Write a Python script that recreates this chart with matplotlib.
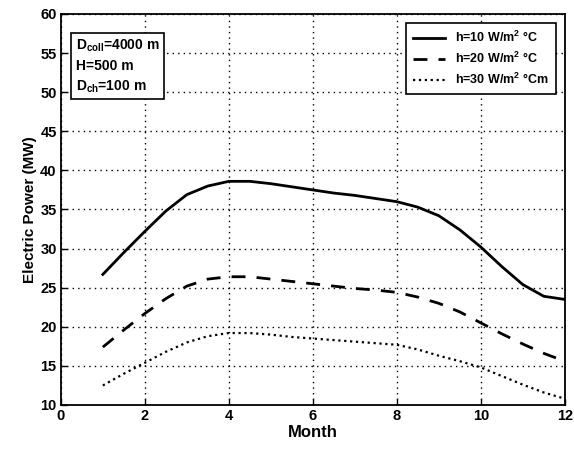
"""Electric power of the solar chimney over the year for three heat-transfer coefficients."""
import matplotlib
matplotlib.use("Agg")
import matplotlib.pyplot as plt  # noqa: E402

plt.rcParams["font.family"] = ["Liberation Sans", "DejaVu Sans"]
plt.rcParams["font.weight"] = "bold"
plt.rcParams["mathtext.fontset"] = "custom"
plt.rcParams["mathtext.rm"] = "Liberation Sans:bold"
plt.rcParams["mathtext.it"] = "Liberation Sans:bold"

month = [1, 1.5, 2, 2.5, 3, 3.5, 4, 4.5, 5, 5.5, 6, 6.5,
         7, 7.5, 8, 8.5, 9, 9.5, 10, 10.5, 11, 11.5, 12]
power_h10 = [26.7, 29.5, 32.2, 34.8, 36.9, 38.0, 38.6, 38.6, 38.3, 37.9, 37.5, 37.1,
             36.8, 36.4, 36.0, 35.3, 34.2, 32.4, 30.2, 27.7, 25.4, 23.9, 23.5]
power_h20 = [17.4, 19.6, 21.7, 23.6, 25.2, 26.1, 26.4, 26.4, 26.1, 25.8, 25.5, 25.2,
             24.9, 24.7, 24.4, 23.8, 23.0, 21.9, 20.5, 19.1, 17.8, 16.6, 15.6]
power_h30 = [12.5, 14.0, 15.4, 16.8, 18.0, 18.8, 19.2, 19.2, 19.0, 18.7, 18.5, 18.3,
             18.1, 17.9, 17.7, 17.1, 16.3, 15.6, 14.8, 13.7, 12.6, 11.6, 10.8]
labels = [r"h=10 W/m$^2$ °C", r"h=20 W/m$^2$ °C", r"h=30 W/m$^2$ °Cm"]
xticks = [0, 2, 4, 6, 8, 10, 12]
yticks = [10, 15, 20, 25, 30, 35, 40, 45, 50, 55, 60]

fig = plt.figure(figsize=(5.74, 4.51), dpi=100)
ax = fig.add_axes([0.106, 0.102, 0.878, 0.867])

ax.plot(month, power_h10, "-", color="black", lw=2.0, label=labels[0])
ax.plot(month, power_h20, "--", color="black", lw=2.0, dashes=(5, 4), label=labels[1])
ax.plot(month, power_h30, ":", color="black", lw=1.6, label=labels[2])

ax.set_xlim(0, 12); ax.set_ylim(10, 60)
ax.set_xticks(xticks); ax.set_yticks(yticks)
ax.tick_params(direction="in", length=4, width=1, labelsize=10.5, pad=3)
ax.grid(True, ls=(0, (1, 3)), color="black", lw=1.0)
for s in ax.spines.values():
    s.set_linewidth(1.3)

ax.set_xlabel("Month", fontsize=12, fontweight="bold", labelpad=1)
ax.set_ylabel("Electric Power (MW)", fontsize=11, fontweight="bold", labelpad=2)

leg = ax.legend(loc="upper right", fontsize=9, frameon=True, fancybox=False,
                handlelength=2.6, borderpad=0.55, labelspacing=0.45,
                bbox_to_anchor=(0.995, 0.992))
leg.get_frame().set_edgecolor("black")
leg.get_frame().set_linewidth(1.2)
leg.get_frame().set_alpha(1)

ax.text(0.03, 0.94,
        "D$_{coll}$=4000 m\nH=500 m\nD$_{ch}$=100 m",
        transform=ax.transAxes, fontsize=10, va="top", ha="left", linespacing=1.45,
        bbox=dict(boxstyle="square,pad=0.35", fc="white", ec="black", lw=1.2))

fig.savefig("out.png", dpi=100)
